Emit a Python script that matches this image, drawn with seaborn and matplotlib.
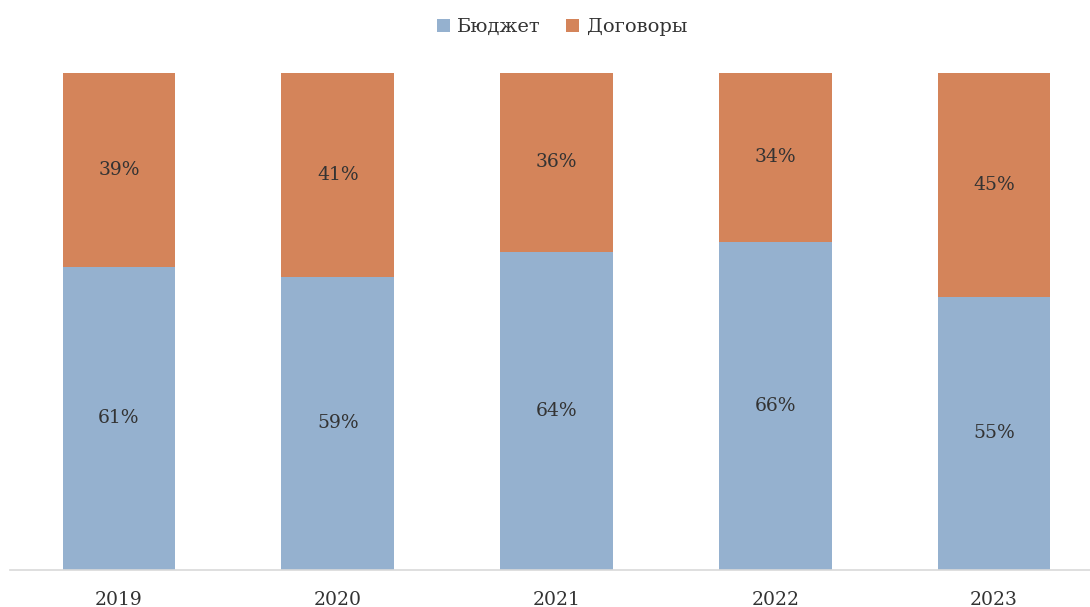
import matplotlib
matplotlib.use("Agg")
import matplotlib.pyplot as plt
from matplotlib.patches import Patch
import seaborn as sns
import pandas as pd

years = ["2019", "2020", "2021", "2022", "2023"]
budget = [61, 59, 64, 66, 55]
contracts = [39, 41, 36, 34, 45]
series_names = ["Бюджет", "Договоры"]

BLUE = "#95B1CF"
ORANGE = "#D4845A"
TEXT = "#333333"

sns.set_theme(style="white")
plt.rcParams["font.family"] = ["DejaVu Serif"]

df = pd.DataFrame({"year": years, "budget": budget, "contracts": contracts})
df["total"] = df["budget"] + df["contracts"]

fig = plt.figure(figsize=(10.9, 6.07), dpi=100)
ax = fig.add_axes([10 / 1090, 37 / 607, 1080 / 1090, 497 / 607])

# Stacked bars: full-height orange underneath, blue share drawn over it
sns.barplot(data=df, x="year", y="total", color=ORANGE, width=0.515,
            saturation=1, ax=ax, linewidth=0)
sns.barplot(data=df, x="year", y="budget", color=BLUE, width=0.515,
            saturation=1, ax=ax, linewidth=0)

for i, (b, c) in enumerate(zip(budget, contracts)):
    ax.text(i, b / 2, f"{b}%", ha="center", va="center", fontsize=13.5, color=TEXT)
    ax.text(i, b + c / 2, f"{c}%", ha="center", va="center", fontsize=13.5, color=TEXT)

ax.set_xlim(-0.498, 4.439)
ax.set_ylim(0, 100)
ax.set_xlabel("")
ax.set_ylabel("")
ax.set_yticks([])
ax.tick_params(axis="x", length=0, labelsize=13.5, labelcolor=TEXT, pad=15)
for side in ["top", "right", "left"]:
    ax.spines[side].set_visible(False)
ax.spines["bottom"].set_color("#D9D9D9")
ax.spines["bottom"].set_linewidth(1.2)

handles = [Patch(facecolor=BLUE, edgecolor="none"),
           Patch(facecolor=ORANGE, edgecolor="none")]
fig.legend(handles, series_names, loc="center", bbox_to_anchor=(562 / 1090, 1 - 27 / 607),
           ncol=2, frameon=False, fontsize=14, handlelength=0.65, handleheight=0.65,
           handletextpad=0.4, columnspacing=1.3, labelcolor=TEXT)

fig.savefig("out.png", dpi=100, facecolor="white")
